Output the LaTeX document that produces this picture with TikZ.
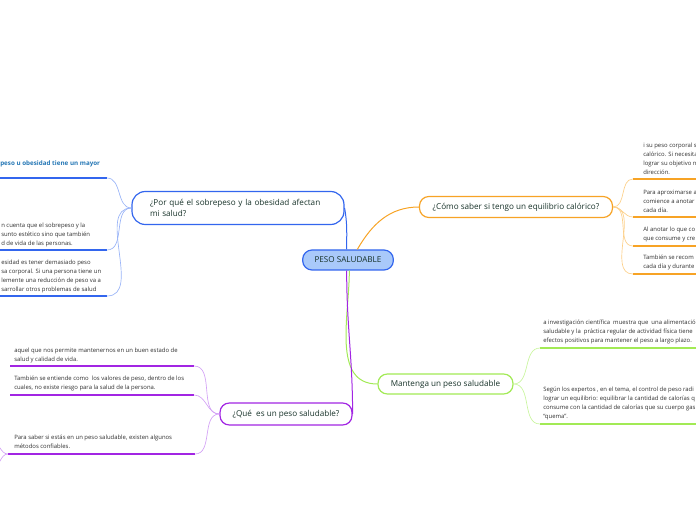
\documentclass[tikz,border=0pt]{standalone}
\usepackage{fontspec}
\setmainfont{Open Sans}
\usepackage{tikz}
\usetikzlibrary{positioning}

\definecolor{blu}{HTML}{3366EE}
\definecolor{blutw}{HTML}{9AB4F7}
\definecolor{celeste}{HTML}{A9C9FA}
\definecolor{arancio}{HTML}{F7A325}
\definecolor{aranciotw}{HTML}{FCCF88}
\definecolor{verde}{HTML}{A2EA55}
\definecolor{verdetw}{HTML}{C9F59E}
\definecolor{viola}{HTML}{A225E3}
\definecolor{violatw}{HTML}{D3A2F5}
\definecolor{testo}{HTML}{173229}
\definecolor{grigio}{HTML}{2E2E2E}
\definecolor{titolo}{HTML}{2577B5}

\begin{document}
\begin{tikzpicture}[x=0.75pt,y=-0.75pt,
  topic/.style={draw, line width=0.9pt, rounded corners=7pt, fill=white,
    text=testo, font=\fontsize{6.1}{7.6}\selectfont, inner sep=0pt},
  leaf/.style={anchor=north west, inner sep=0pt, align=left, text=grigio,
    font=\fontsize{4.45}{6.6}\selectfont},
  uline/.style={line width=1.5pt},
  twig/.style={line width=0.5pt},
  branch/.style={line width=0.75pt}]
  \useasboundingbox (0,0) rectangle (696,520);
  \clip (0,0) rectangle (696,520);

  % main topics
  \node[topic, draw=blu, fill=celeste, minimum width=68pt, minimum height=15pt]
    (peso) at (348,260) {PESO SALUDABLE};
  \node[topic, draw=blu, rounded corners=10pt, align=left, text width=132pt,
    inner xsep=13.5pt, minimum height=24.75pt] (porque) at (238,208)
    {¿Por qué el sobrepeso y la obesidad afectan\\mi salud?};
  \node[topic, draw=arancio, minimum width=144.75pt, minimum height=15.75pt]
    (como) at (516,207) {¿Cómo saber si tengo un equilibrio calórico?};
  \node[topic, draw=verde, minimum width=101.25pt, minimum height=15pt]
    (mant) at (445.5,384) {Mantenga un peso saludable};
  \node[topic, draw=viola, minimum width=99pt, minimum height=16.5pt]
    (que) at (286,414) {¿Qué\ \ es un peso saludable?};

  % branches from the centre
  \draw[branch, blu] (porque.east) to[out=-80,in=90] ([xshift=-1pt]peso.north);
  \draw[branch, arancio] ([xshift=7pt]peso.north) to[out=60,in=180] (como.west);
  \draw[branch, verde] ([xshift=1pt]peso.south) to[out=-90,in=180] (mant.west);
  \draw[branch, viola] ([xshift=-1pt]peso.south) to[out=-90,in=90] (que.east);

  %---- ramo blu ----
  \coordinate (b1a) at (0,178);   \coordinate (b1b) at (107,178);
  \coordinate (b2a) at (0,250);   \coordinate (b2b) at (107,250);
  \coordinate (b3a) at (0,296);   \coordinate (b3b) at (107,296);
  \foreach \k in {1,2,3}{
    \draw[uline, blu] (b\k a) -- (b\k b);
    \draw[twig, blutw] (b\k b) to[out=0,in=180] (porque.west);
  }
  \node[leaf, text=titolo, font=\fontsize{4.7}{6.6}\selectfont\bfseries]
    (b1t) at (0,160) {peso u obesidad tiene un mayor};
  \node[leaf] (b2t) at (1,223) {n cuenta que el sobrepeso y la\\
    sunto estético sino que también\\d de vida de las personas.};
  \node[leaf] (b3t) at (1,260) {esidad es tener demasiado peso\\
    sa corporal. Si una persona tiene un\\
    lemente una reducción de peso va a\\
    sarrollar otros problemas de salud};

  %---- ramo viola ----
  \coordinate (p1a) at (10,366);  \coordinate (p1b) at (194,366);
  \coordinate (p2a) at (10,395);  \coordinate (p2b) at (194,395);
  \coordinate (p3a) at (8,454);   \coordinate (p3b) at (195,454);
  \foreach \k in {1,2,3}{
    \draw[uline, viola] (p\k a) -- (p\k b);
    \draw[twig, violatw] (p\k b) to[out=0,in=180] (que.west);
  }
  \coordinate (pout1) at (-8,442);
  \coordinate (pout2) at (-8,468);
  \draw[twig, violatw] (p3a) to[out=180,in=0] (pout1);
  \draw[twig, violatw] (p3a) to[out=180,in=0] (pout2);
  \node[leaf] (p1t) at (14,348) {aquel que nos permite mantenernos en un buen estado de\\
    salud y calidad de vida.};
  \node[leaf] (p2t) at (14,376) {También se entiende como\ \ los valores de peso, dentro de los\\
    cuales, no existe riesgo para la salud de la persona.};
  \node[leaf] (p3t) at (14,435) {Para saber si estás en un peso saludable, existen algunos\\
    métodos confiables.};

  %---- ramo arancio ----
  \coordinate (o1a) at (633,179);  \coordinate (o1b) at (700,179);
  \coordinate (o2a) at (633,217);  \coordinate (o2b) at (700,217);
  \coordinate (o3a) at (633,246);  \coordinate (o3b) at (700,246);
  \coordinate (o4a) at (633,274);  \coordinate (o4b) at (700,274);
  \foreach \k in {1,...,4}{
    \draw[uline, arancio] (o\k a) -- (o\k b);
    \draw[twig, aranciotw] (como.east) to[out=0,in=180] (o\k a);
  }
  \node[leaf] (o1t) at (643,143) {i su peso corporal s\\calórico. Si necesita\\
    lograr su objetivo n\\dirección.};
  \node[leaf] (o2t) at (643,190) {Para aproximarse a\\comience a anotar\\cada día.};
  \node[leaf] (o3t) at (643,227) {Al anotar lo que co\\que consume y cre};
  \node[leaf] (o4t) at (643,255) {También se recom\\cada día y durante};

  %---- ramo verde ----
  \coordinate (g1a) at (540,348);  \coordinate (g1b) at (700,348);
  \coordinate (g2a) at (540,424);  \coordinate (g2b) at (700,424);
  \foreach \k in {1,2}{
    \draw[uline, verde] (g\k a) -- (g\k b);
    \draw[twig, verdetw] (mant.east) to[out=0,in=180] (g\k a);
  }
  \node[leaf] (g1t) at (543,320) {a investigación científica\ \ muestra que\ \ una alimentació\\
    saludable y la\ \ práctica regular de actividad física tiene\\
    efectos positivos para mantener el peso a largo plazo.};
  \node[leaf] (g2t) at (543,387) {Según los expertos , en el tema, el control de peso radi\\
    lograr un equilibrio: equilibrar la cantidad de calorías q\\
    consume con la cantidad de calorías que su cuerpo gas\\
    ``quema''.};
\end{tikzpicture}
\end{document}
